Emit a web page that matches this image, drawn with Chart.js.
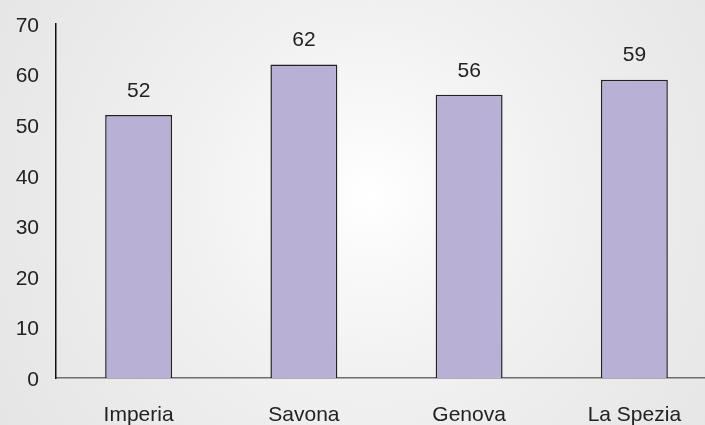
<!DOCTYPE html>
<html>
<head>
<meta charset="utf-8">
<script src="https://cdn.jsdelivr.net/npm/chart.js@4/dist/chart.umd.min.js"></script>
<style>
  html, body { margin: 0; padding: 0; overflow: hidden; }
  #wrap {
    width: 705px; height: 425px; overflow: hidden; position: relative;
    background: radial-gradient(circle at 370px 195px, #ffffff 0px, #f9f9f9 70px, #f1f1f1 180px, #eaeaea 320px, #e4e4e4 460px);
  }
  canvas { position: absolute; left: 0; top: 0; }
</style>
</head>
<body>
<div id="wrap"><canvas id="chart" width="717" height="425"></canvas></div>
<script>
// values
const provinces = ['Imperia', 'Savona', 'Genova', 'La Spezia'];
const values = [52, 62, 56, 59];
const yTicks = [0, 10, 20, 30, 40, 50, 60, 70];

const FONT = '"Liberation Sans", Arial, sans-serif';

// numbers above each bar
const valueLabels = {
    id: 'valueLabels',
    afterDatasetsDraw(chart) {
        const ctx = chart.ctx;
        const meta = chart.getDatasetMeta(0);
        ctx.save();
        ctx.font = '21px ' + FONT;
        ctx.fillStyle = '#222';
        ctx.textAlign = 'center';
        ctx.textBaseline = 'middle';
        meta.data.forEach((bar, i) => {
            ctx.fillText(String(values[i]), bar.x, bar.y - 24);
        });
        ctx.restore();
    }
};

new Chart(document.getElementById('chart'), {
    type: 'bar',
    data: {
        labels: provinces,
        datasets: [{
            data: values,
            backgroundColor: '#b8b0d5',
            borderColor: '#222',
            borderWidth: 1.5,
            borderSkipped: 'bottom',
            barPercentage: 0.405,
            categoryPercentage: 1
        }]
    },
    options: {
        responsive: false,
        animation: false,
        layout: { padding: { top: 24, right: 0, left: 0, bottom: 0 } },
        plugins: {
            legend: { display: false },
            tooltip: { enabled: false }
        },
        scales: {
            x: {
                grid: { display: false, drawTicks: false },
                border: { display: true, color: '#6e6e6e', width: 1.5 },
                ticks: { color: '#222', font: { family: FONT, size: 21 }, padding: 25 },
                afterFit(scale) { scale.height = 47; }
            },
            y: {
                min: 0,
                max: 70,
                afterBuildTicks(scale) { scale.ticks = yTicks.map(v => ({ value: v })); },
                grid: { display: false, drawTicks: false },
                border: { display: true, color: '#111', width: 1.5 },
                ticks: { color: '#222', font: { family: FONT, size: 21 }, padding: 17, labelOffset: 2 },
                afterFit(scale) {
                    scale.width = 56;
                    scale.paddingTop = 0;
                    scale.paddingBottom = 0;
                }
            }
        }
    },
    plugins: [valueLabels]
});
</script>
</body>
</html>
